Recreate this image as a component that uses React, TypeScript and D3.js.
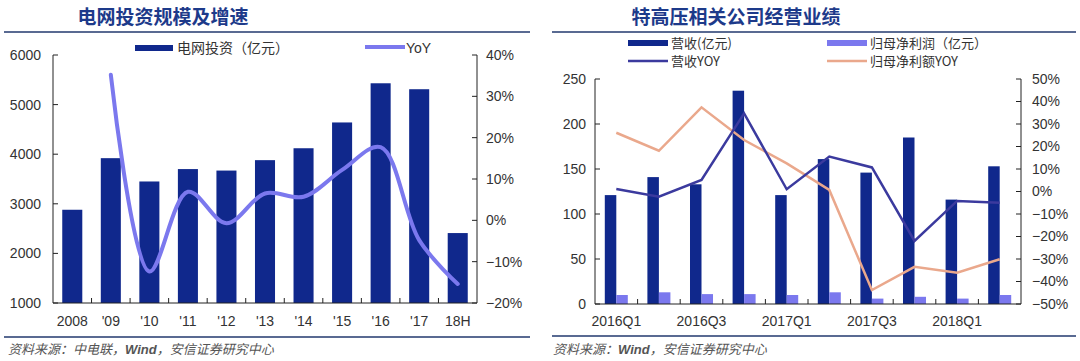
import React from 'react';
import * as d3 from 'd3';

// 电网投资规模及增速
const gridYears = ['2008', "'09", "'10", "'11", "'12", "'13", "'14", "'15", "'16", "'17", '18H'];
const gridInvest = [2880, 3920, 3450, 3700, 3670, 3880, 4120, 4640, 5430, 5310, 2410];
const gridYoy = [null, 35.2, -12.4, 6.9, -0.7, 6.5, 5.7, 12.2, 17.7, -4.8, -15.4];
const investTicks = [1000, 2000, 3000, 4000, 5000, 6000];
const yoyTicksLeft = [-20, -10, 0, 10, 20, 30, 40];

// 特高压相关公司经营业绩
const quarters = ['2016Q1', '2016Q2', '2016Q3', '2016Q4', '2017Q1', '2017Q2', '2017Q3', '2017Q4', '2018Q1', '2018Q2'];
const quarterLabels = ['2016Q1', '2016Q3', '2017Q1', '2017Q3', '2018Q1'];
const revenue = [121, 141, 133, 237, 121, 161, 146, 185, 116, 153];
const profit = [10, 13, 11, 11, 10, 13, 6, 8, 6, 10];
const revenueYoy = [1.1, -2.3, 5.1, 34.7, 1.0, 15.5, 10.7, -22.0, -4.2, -5.0];
const profitYoy = [26.1, 18.1, 37.4, 22.9, 12.5, 0.7, -43.8, -33.5, -36.1, -30.1];
const revenueTicks = [0, 50, 100, 150, 200, 250];
const yoyTicksRight = [-50, -40, -30, -20, -10, 0, 10, 20, 30, 40, 50];

const NAVY = '#10288c';
const LIGHT = '#7b78ee';
const LINE_NAVY = '#3b3a9e';
const SALMON = '#eaa88c';
const RULE = '#22386e';
const TITLE = '#1d3a8a';
const AXIS_FONT = '"Liberation Sans", Arial, sans-serif';
const CJK_FONT = '"Noto Sans CJK SC", sans-serif';

const pct = (v) => (v < 0 ? '\u2212' + Math.abs(v) : String(v)) + '%';

function LeftChart() {
    const left = 53, right = 477, top = 55, bottom = 303;
    const x = d3.scaleBand().domain(gridYears).range([left, right]).paddingInner(0.48).paddingOuter(0.24);
    const yL = d3.scaleLinear().domain([1000, 6000]).range([bottom, top]);
    const yR = d3.scaleLinear().domain([-20, 40]).range([bottom, top]);
    const step = x.step();
    const cx = (d) => x(d) + x.bandwidth() / 2;

    const line = d3
        .line()
        .x((d) => cx(d[0]))
        .y((d) => yR(d[1]))
        .curve(d3.curveCatmullRom.alpha(0.5));
    const pts = gridYears.map((g, i) => [g, gridYoy[i]]).filter((d) => d[1] != null);

    return (
        <g>
            <text x={163} y={24} textAnchor="middle" fontFamily={CJK_FONT} fontWeight="bold" fontSize={19} fill={TITLE}>
                电网投资规模及增速
            </text>
            <line x1={4} x2={530} y1={32} y2={32} stroke={RULE} strokeWidth={1.5} />

            {/* legend */}
            <rect x={135} y={45} width={38} height={6} fill={NAVY} />
            <text x={177} y={53} fontFamily={CJK_FONT} fontSize={14} fill="#333">电网投资（亿元）</text>
            <line x1={365} x2={405} y1={47} y2={47} stroke={LIGHT} strokeWidth={4} />
            <text x={406} y={53} fontFamily={AXIS_FONT} fontSize={14} fill="#333">YoY</text>

            {/* bars */}
            {gridYears.map((g, i) => (
                <rect key={g} x={x(g)} y={yL(gridInvest[i])} width={x.bandwidth()} height={bottom - yL(gridInvest[i])} fill={NAVY} />
            ))}

            {/* axes */}
            <path d={`M${left},${top}V${bottom}H${right}V${top}`} fill="none" stroke="#222" strokeWidth={1} />
            {investTicks.map((t) => (
                <g key={t}>
                    <line x1={left} x2={left + 5} y1={yL(t)} y2={yL(t)} stroke="#222" />
                    <text x={41} y={yL(t)} dy="0.35em" textAnchor="end" fontFamily={AXIS_FONT} fontSize={14} fill="#333">{t}</text>
                </g>
            ))}
            {yoyTicksLeft.map((t) => (
                <g key={t}>
                    <line x1={right - 5} x2={right} y1={yR(t)} y2={yR(t)} stroke="#222" />
                    <text x={486} y={yR(t)} dy="0.35em" textAnchor="start" fontFamily={AXIS_FONT} fontSize={14} fill="#333">{pct(t)}</text>
                </g>
            ))}
            {gridYears.map((g, i) => (
                <g key={g}>
                    {i > 0 && <line x1={x(g) - (step - x.bandwidth()) / 2} x2={x(g) - (step - x.bandwidth()) / 2} y1={bottom} y2={bottom - 5} stroke="#222" />}
                    <text x={cx(g)} y={326} textAnchor="middle" fontFamily={AXIS_FONT} fontSize={14} fill="#333">{g}</text>
                </g>
            ))}

            {/* YoY */}
            <path d={line(pts)} fill="none" stroke={LIGHT} strokeWidth={4} strokeLinecap="round" />

            <line x1={4} x2={530} y1={337} y2={337} stroke={RULE} strokeWidth={1.5} />
            <text x={8} y={354} fontFamily={CJK_FONT} fontStyle="italic" fontSize={13} fill="#555">
                资料来源：中电联，<tspan fontFamily={AXIS_FONT} fontWeight="bold">Wind</tspan>，安信证券研究中心
            </text>
        </g>
    );
}

function RightChart() {
    const left = 595, right = 1021, top = 79, bottom = 304;
    const x = d3.scaleBand().domain(quarters).range([left, right]).paddingInner(0.46).paddingOuter(0.23);
    const sub = d3.scaleBand().domain(['rev', 'profit']).range([0, x.bandwidth()]);
    const y = d3.scaleLinear().domain([0, 250]).range([bottom, top]);
    const yp = d3.scaleLinear().domain([-50, 50]).range([bottom, top]);
    const step = x.step();
    const cx = (d) => x(d) + x.bandwidth() / 2;

    const line = d3
        .line()
        .x((d) => cx(d[0]))
        .y((d) => yp(d[1]));

    return (
        <g>
            <text x={736} y={24} textAnchor="middle" fontFamily={CJK_FONT} fontWeight="bold" fontSize={19} fill={TITLE}>
                特高压相关公司经营业绩
            </text>
            <line x1={552} x2={1076} y1={32} y2={32} stroke={RULE} strokeWidth={1.5} />

            {/* legend */}
            <rect x={628} y={40} width={40} height={6} fill={NAVY} />
            <text x={671} y={48} fontFamily={CJK_FONT} fontSize={13} fill="#333">营收(亿元)</text>
            <rect x={827} y={40} width={40} height={6} fill={LIGHT} />
            <text x={870} y={48} fontFamily={CJK_FONT} fontSize={13} fill="#333">归母净利润（亿元）</text>
            <line x1={628} x2={668} y1={61} y2={61} stroke={LINE_NAVY} strokeWidth={2.5} />
            <text x={671} y={66} fontFamily={CJK_FONT} fontSize={13} fill="#333">营收YOY</text>
            <line x1={827} x2={867} y1={61} y2={61} stroke={SALMON} strokeWidth={2.5} />
            <text x={870} y={66} fontFamily={CJK_FONT} fontSize={13} fill="#333">归母净利额YOY</text>

            {/* bars */}
            {quarters.map((q, i) => (
                <g key={q}>
                    <rect x={x(q) + sub('rev')} y={y(revenue[i])} width={sub.bandwidth()} height={bottom - y(revenue[i])} fill={NAVY} />
                    <rect x={x(q) + sub('profit')} y={y(profit[i])} width={sub.bandwidth()} height={bottom - y(profit[i])} fill={LIGHT} />
                </g>
            ))}

            {/* axes */}
            <path d={`M${left},${top}V${bottom}H${right}V${top}`} fill="none" stroke="#222" strokeWidth={1} />
            {revenueTicks.map((t) => (
                <g key={t}>
                    <line x1={left} x2={left + 5} y1={y(t)} y2={y(t)} stroke="#222" />
                    <text x={586} y={y(t)} dy="0.35em" textAnchor="end" fontFamily={AXIS_FONT} fontSize={14} fill="#333">{t}</text>
                </g>
            ))}
            {yoyTicksRight.map((t) => (
                <g key={t}>
                    <line x1={right - 5} x2={right} y1={yp(t)} y2={yp(t)} stroke="#222" />
                    <text x={1032} y={yp(t)} dy="0.35em" textAnchor="start" fontFamily={AXIS_FONT} fontSize={14} fill="#333">{pct(t)}</text>
                </g>
            ))}
            {quarters.map((q, i) => (
                <g key={q}>
                    {i > 0 && <line x1={x(q) - (step - x.bandwidth()) / 2} x2={x(q) - (step - x.bandwidth()) / 2} y1={bottom} y2={bottom - 5} stroke="#222" />}
                    {quarterLabels.includes(q) && (
                        <text x={cx(q)} y={326} textAnchor="middle" fontFamily={AXIS_FONT} fontSize={14} fill="#333">{q}</text>
                    )}
                </g>
            ))}

            {/* YoY lines */}
            <path d={line(quarters.map((q, i) => [q, profitYoy[i]]))} fill="none" stroke={SALMON} strokeWidth={2.5} />
            <path d={line(quarters.map((q, i) => [q, revenueYoy[i]]))} fill="none" stroke={LINE_NAVY} strokeWidth={2.5} />

            <line x1={552} x2={1076} y1={336} y2={336} stroke={RULE} strokeWidth={1.5} />
            <text x={553} y={354} fontFamily={CJK_FONT} fontStyle="italic" fontSize={13} fill="#555">
                资料来源：<tspan fontFamily={AXIS_FONT} fontWeight="bold">Wind</tspan>，安信证券研究中心
            </text>
        </g>
    );
}

export default function App() {
    return (
        <svg width={1080} height={361} style={{position: 'absolute', left: 0, top: 0, background: '#fff'}}>
            <rect width={1080} height={361} fill="#fff" />
            <LeftChart />
            <RightChart />
        </svg>
    );
}
